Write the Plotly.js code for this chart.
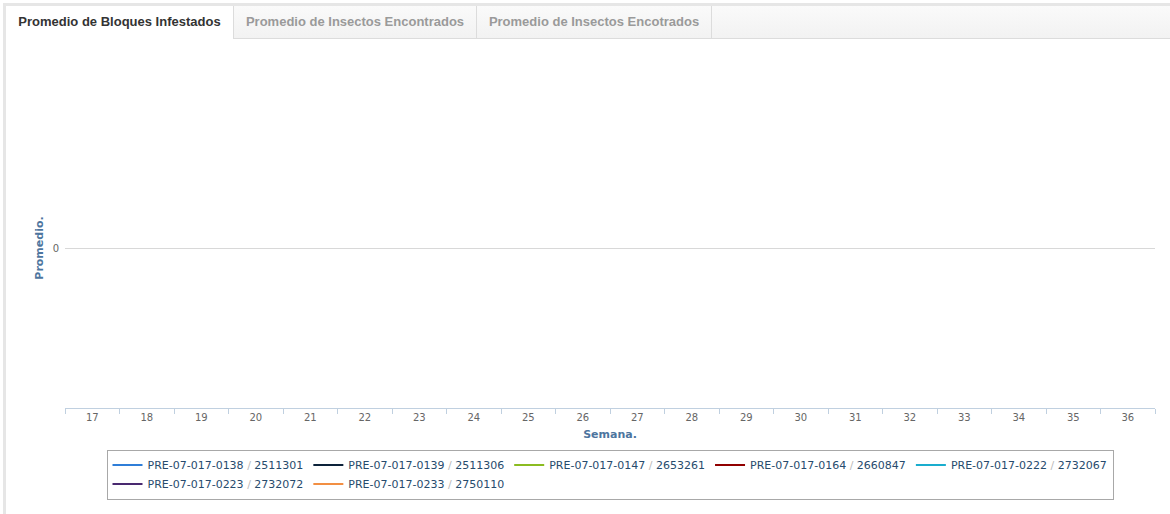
<!DOCTYPE html>
<html>
<head>
<meta charset="utf-8">
<script src="https://cdn.plot.ly/plotly-3.0.1.min.js"></script>
<style>
  html, body { margin: 0; padding: 0; background: #fff; width: 1170px; height: 514px; overflow: hidden; }
  #frame { position: absolute; left: 3px; top: 3px; right: 0; bottom: 0; border-left: 3px solid #e6e6e6; border-top: 3px solid #e6e6e6; }
  #tabs { position: absolute; left: 0; top: 0; right: 0; height: 32px; background: linear-gradient(#fafafa, #f2f2f2); border-bottom: 1px solid #dcdcdc; font-family: "Liberation Sans", Arial, sans-serif; font-weight: bold; font-size: 13px; }
  .tab { position: absolute; top: 0; height: 32px; line-height: 32px; text-align: center; color: #9a9a9a; border-right: 1px solid #dcdcdc; box-sizing: border-box; }
  .tab.active { background: #fff; color: #333; height: 33px; }
  #chart { position: absolute; left: 6px; top: 39px; width: 1164px; height: 475px; }
</style>
</head>
<body>
<div id="frame">
  <div id="tabs">
    <div class="tab active" style="left:0;width:228px;">Promedio de Bloques Infestados</div>
    <div class="tab" style="left:228px;width:243px;">Promedio de Insectos Encontrados</div>
    <div class="tab" style="left:471px;width:235px;">Promedio de Insectos Encotrados</div>
  </div>
</div>
<div id="chart"></div>
<script>
// Weeks (x categories)
const weeks = ['17','18','19','20','21','22','23','24','25','26','27','28','29','30','31','32','33','34','35','36'];

// Series names
const seriesNames = [
  'PRE-07-017-0138 / 2511301',
  'PRE-07-017-0139 / 2511306',
  'PRE-07-017-0147 / 2653261',
  'PRE-07-017-0164 / 2660847',
  'PRE-07-017-0222 / 2732067',
  'PRE-07-017-0223 / 2732072',
  'PRE-07-017-0233 / 2750110'
];

// Series values (no data reported for any week)
const s0138 = [null,null,null,null,null,null,null,null,null,null,null,null,null,null,null,null,null,null,null,null];
const s0139 = [null,null,null,null,null,null,null,null,null,null,null,null,null,null,null,null,null,null,null,null];
const s0147 = [null,null,null,null,null,null,null,null,null,null,null,null,null,null,null,null,null,null,null,null];
const s0164 = [null,null,null,null,null,null,null,null,null,null,null,null,null,null,null,null,null,null,null,null];
const s0222 = [null,null,null,null,null,null,null,null,null,null,null,null,null,null,null,null,null,null,null,null];
const s0223 = [null,null,null,null,null,null,null,null,null,null,null,null,null,null,null,null,null,null,null,null];
const s0233 = [null,null,null,null,null,null,null,null,null,null,null,null,null,null,null,null,null,null,null,null];

const seriesValues = [s0138, s0139, s0147, s0164, s0222, s0223, s0233];
const colors = ['#2f7ed8','#0d233a','#8bbc21','#910000','#1aadce','#492970','#f28f43'];

const traces = seriesNames.map((n, i) => {
  const parts = n.split(' / ');
  return {
    type: 'scatter',
    mode: 'lines',
    x: weeks,
    y: seriesValues[i],
    name: parts[0] + ' <span style="color:#bbb">/</span> ' + parts[1],
    line: { color: colors[i], width: 2 },
    connectgaps: false
  };
});

const layout = {
  width: 1164,
  height: 475,
  margin: { l: 59, r: 15, t: 49, b: 106 },
  paper_bgcolor: '#fff',
  plot_bgcolor: '#fff',
  font: { family: 'DejaVu Sans, Verdana, sans-serif', size: 10, color: '#666' },
  showlegend: true,
  xaxis: {
    type: 'category',
    range: [-0.5, 19.5],
    tickson: 'boundaries',
    ticks: 'outside',
    ticklen: 5,
    tickcolor: '#C0D0E0',
    showline: true,
    linecolor: '#C0D0E0',
    linewidth: 1,
    showgrid: false,
    zeroline: false,
    tickfont: { family: 'DejaVu Sans, Verdana, sans-serif', size: 10, color: '#666' },
    title: { text: '<b>Semana.</b>', font: { family: 'DejaVu Sans, Verdana, sans-serif', size: 11, color: '#4d759e' }, standoff: 8 },
    fixedrange: true
  },
  yaxis: {
    range: [-1, 1],
    tickvals: [0],
    ticktext: ['0'],
    ticks: '',
    ticklabelstandoff: 5,
    showline: false,
    showgrid: true,
    gridcolor: '#d8d8d8',
    gridwidth: 1,
    zeroline: false,
    tickfont: { family: 'DejaVu Sans, Verdana, sans-serif', size: 10, color: '#666' },
    title: { text: '<b>Promedio.</b>', font: { family: 'DejaVu Sans, Verdana, sans-serif', size: 11, color: '#4d759e' }, standoff: 6 },
    fixedrange: true
  },
  legend: {
    orientation: 'h',
    x: 0.5,
    xanchor: 'center',
    y: -0.13,
    yanchor: 'top',
    bgcolor: '#fff',
    bordercolor: '#a8a8a8',
    borderwidth: 1,
    font: { family: 'DejaVu Sans, Verdana, sans-serif', size: 11, color: '#274b6d' },
    tracegroupgap: 0
  }
};

Plotly.newPlot('chart', traces, layout, { displayModeBar: false, staticPlot: true });
</script>
</body>
</html>
